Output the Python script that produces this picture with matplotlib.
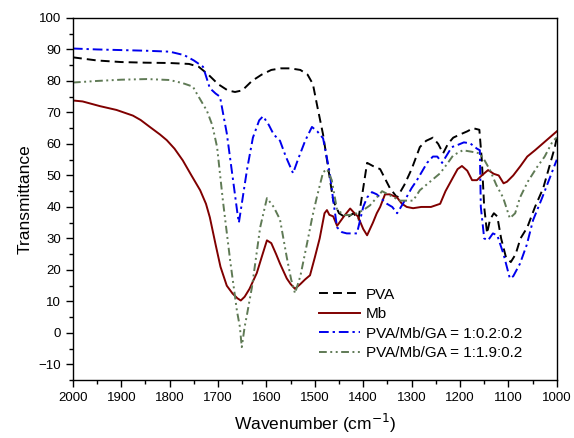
#!/usr/bin/env python
# -*- coding: utf-8 -*-

"""
FTIR transmittance spectra of PVA, Mb and the crosslinked PVA/Mb/GA films.
"""

import matplotlib
matplotlib.use("Agg")
import matplotlib.pyplot as plt
from matplotlib.ticker import MultipleLocator

# PVA
pva_wn = [2000, 1950, 1900, 1850, 1800, 1760, 1740, 1720, 1700, 1680, 1665, 1650,
          1630, 1610, 1590, 1570, 1551, 1530, 1515, 1504, 1495, 1483, 1472, 1462,
          1450, 1440, 1430, 1420, 1410, 1400, 1392, 1380, 1365, 1355, 1345, 1330,
          1315, 1300, 1283, 1270, 1256, 1245, 1235, 1225, 1214, 1200, 1185, 1173,
          1160, 1155, 1150, 1144, 1138, 1130, 1123, 1115, 1105, 1095, 1085, 1075,
          1061, 1045, 1028, 1015, 1004, 1000]
pva_t = [87.5, 86.5, 86, 85.8, 85.7, 85.4, 84.5, 82, 79, 77, 76.5, 77,
         80, 82, 83.5, 84, 84, 83.5, 82, 79, 72, 63, 52, 42,
         38, 37, 37, 38, 36, 46, 54, 53, 52, 49, 46, 43,
         47, 52, 59, 61, 62, 60, 57, 60, 62, 63, 64, 65,
         64.5, 55, 40, 31.6, 36, 38, 37, 30, 24, 22.5, 25, 30,
         33.5, 40, 46, 53, 59, 62]

# Mb
mb_wn = [2000, 1980, 1944, 1910, 1876, 1860, 1841, 1820, 1806, 1790, 1773, 1755,
         1737, 1725, 1717, 1705, 1695, 1682, 1670, 1660, 1653, 1645, 1635, 1620, 1610,
         1599, 1590, 1580, 1572, 1558, 1550, 1541, 1530, 1520, 1510, 1500, 1490,
         1480, 1475, 1470, 1462, 1454, 1440, 1427, 1418, 1411, 1400, 1392, 1380,
         1372, 1365, 1355, 1345, 1330, 1320, 1310, 1297, 1280, 1260, 1241, 1230,
         1214, 1205, 1196, 1185, 1175, 1165, 1155, 1142, 1130, 1120, 1110, 1103,
         1090, 1075, 1061, 1045, 1030, 1015, 1000]
mb_t = [73.8, 73.5, 72, 70.8, 69, 67.6, 65.4, 63, 61.2, 58.5, 54.8, 50,
        45.3, 41, 36.7, 28, 21, 15, 12.5, 11, 10.3, 11.5, 14, 19, 24,
        29.4, 28.5, 25, 22, 17.3, 15.5, 14, 15.5, 17, 18.3, 24, 30,
        38, 39, 37.5, 37, 34, 37, 39.5, 38, 37, 33, 31, 35,
        38, 40, 44, 44, 43, 41, 40, 39.6, 40, 40, 41, 45,
        49.5, 52, 53, 51.5, 48.5, 48.5, 50, 51.7, 50.5, 50, 47.5, 48,
        50, 53, 56, 58, 60, 62, 64]

# PVA/Mb/GA = 1:0.2:0.2
low_wn = [2000, 1950, 1900, 1850, 1800, 1770, 1750, 1731, 1717, 1705, 1696, 1690,
          1682, 1669, 1660, 1657, 1650, 1640, 1628, 1615, 1607, 1595, 1585, 1572,
          1560, 1545, 1535, 1520, 1506, 1495, 1483, 1469, 1462, 1454, 1444, 1434,
          1413, 1400, 1392, 1382, 1372, 1365, 1351, 1340, 1330, 1318, 1300, 1289,
          1268, 1256, 1247, 1237, 1225, 1217, 1206, 1192, 1179, 1165, 1159, 1157,
          1150, 1142, 1132, 1123, 1110, 1097, 1090, 1076, 1062, 1049, 1030, 1015,
          1000]
low_t = [90.3, 90, 89.8, 89.6, 89.3, 88.2, 86.5, 84.5, 77.7, 76, 75, 70,
         63.4, 48.5, 38, 35, 42, 52, 62, 67.5, 68.8, 66, 63, 61,
         56, 50.7, 55, 61, 65.4, 64, 61.8, 50.7, 42, 33.5, 32, 31.6,
         31.6, 40, 43, 44.7, 44, 43, 41, 40, 38, 41, 46, 48.5,
         54, 56, 56, 54, 57, 59, 59.6, 60.5, 60.2, 58.5, 58, 40,
         30, 29.4, 31.6, 31, 25, 17.3, 18, 22, 28, 35.8, 43, 49,
         55]

# PVA/Mb/GA = 1:1.9:0.2
high_wn = [2000, 1950, 1900, 1847, 1800, 1773, 1752, 1744, 1723, 1712, 1702, 1690,
           1675, 1661, 1655, 1651, 1645, 1640, 1630, 1613, 1599, 1585, 1572, 1558,
           1549, 1541, 1530, 1516, 1505, 1496, 1483, 1475, 1465, 1454, 1438, 1425,
           1413, 1400, 1386, 1372, 1361, 1345, 1324, 1310, 1297, 1283, 1262, 1241,
           1225, 1214, 1194, 1175, 1159, 1150, 1138, 1125, 1111, 1097, 1086, 1076,
           1060, 1041, 1025, 1008, 1000]
high_t = [79.5, 80, 80.4, 80.6, 80.3, 79.3, 78.2, 76, 70.5, 66, 59, 42,
          23, 7, 2, -4.5, 2, 6, 14.5, 33.5, 42.8, 40, 36, 24,
          17, 12.6, 18, 28.5, 37, 43, 51, 52, 48.5, 39, 37.4, 37.5,
          38, 39, 40.5, 43, 45, 43.7, 42, 42, 42, 45.3, 48, 50.7,
          54, 56.4, 58, 57.5, 57, 55, 51.7, 47, 43, 36.4, 38, 43,
          48, 52.6, 56, 61, 62]

plt.rcParams["font.family"] = ["Liberation Sans", "DejaVu Sans"]

fig = plt.figure(figsize=(5.74, 4.38), dpi=100)
ax = fig.add_axes([0.127, 0.132, 0.843, 0.827])

lw = 1.4
ax.plot(pva_wn, pva_t, color="black", lw=lw, dashes=(4.6, 2.6), label="PVA")
ax.plot(mb_wn, mb_t, color="#800000", lw=lw, label="Mb")
ax.plot(low_wn, low_t, color="#0000ee", lw=lw, dashes=(5, 2, 1.2, 2),
        label="PVA/Mb/GA = 1:0.2:0.2")
ax.plot(high_wn, high_t, color="#5f7a55", lw=lw, dashes=(4, 1.8, 1, 1.8, 1, 1.8),
        label="PVA/Mb/GA = 1:1.9:0.2")

ax.set_xlim(2000, 1000)
ax.set_ylim(-15, 100)
ax.xaxis.set_major_locator(MultipleLocator(100))
ax.xaxis.set_minor_locator(MultipleLocator(50))
ax.yaxis.set_major_locator(MultipleLocator(10))
ax.yaxis.set_minor_locator(MultipleLocator(5))
ax.tick_params(which="major", direction="out", length=5, width=1, labelsize=9.5)
ax.tick_params(which="minor", direction="out", length=3, width=1)
for s in ax.spines.values():
    s.set_linewidth(1)

ax.set_xlabel("Wavenumber (cm$^{-1}$)", fontsize=12.5, labelpad=6)
ax.set_ylabel("Transmittance", fontsize=12.5, labelpad=4)

ax.legend(loc="upper left", bbox_to_anchor=(0.508, 0.255), frameon=False,
          fontsize=11, borderpad=0, borderaxespad=0, handlelength=2.7,
          handletextpad=0.4, labelspacing=0.35)

plt.savefig("out.png", dpi=100)
